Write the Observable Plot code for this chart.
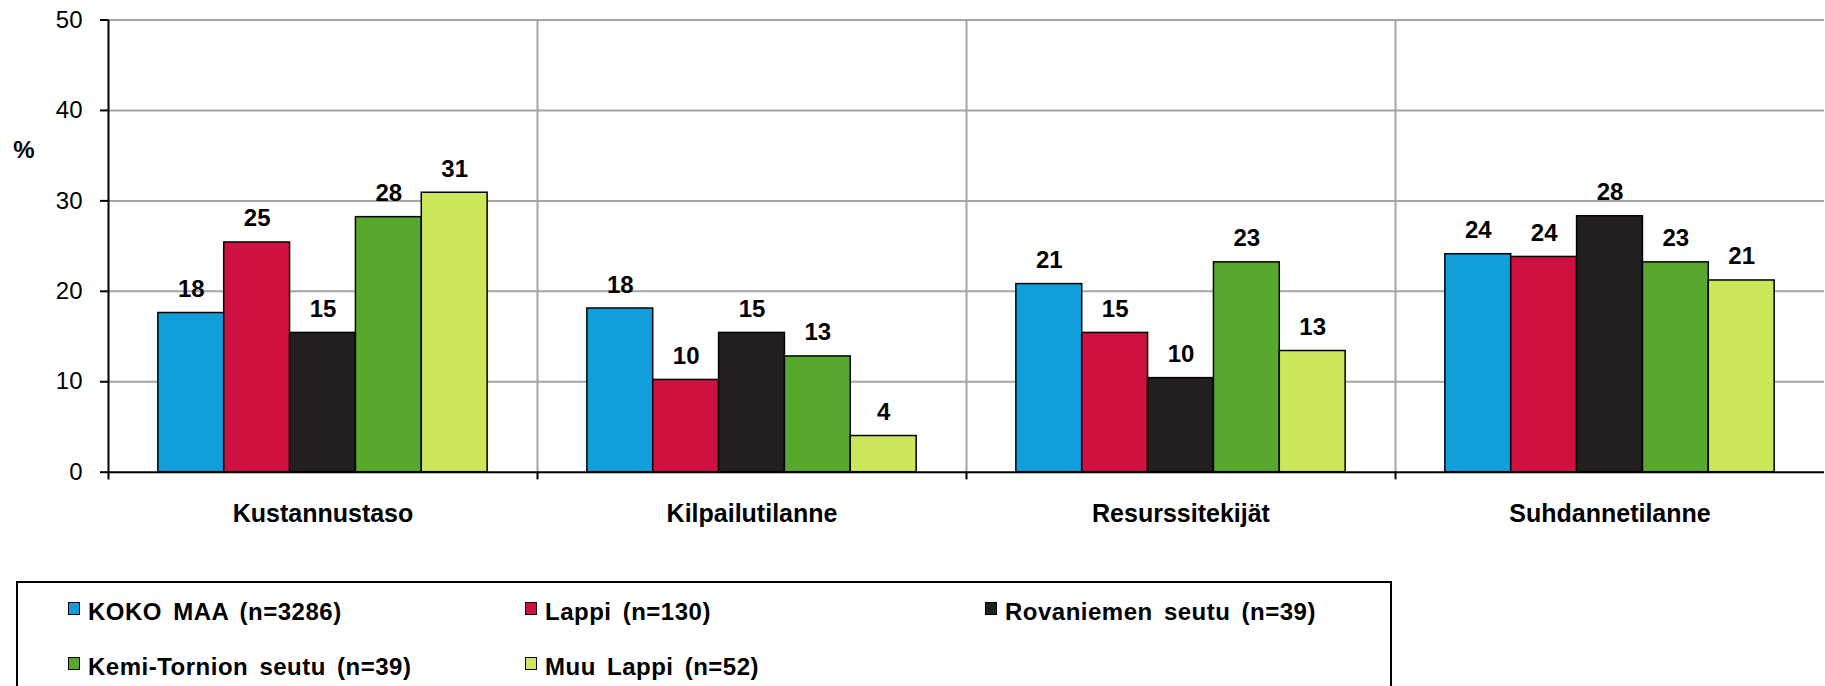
<!DOCTYPE html>
<html>
<head>
<meta charset="utf-8">
<script src="https://cdn.jsdelivr.net/npm/d3@7"></script>
<script src="https://cdn.jsdelivr.net/npm/@observablehq/plot@0.6"></script>
<style>
  html, body { margin: 0; padding: 0; background: #fff; overflow: hidden; }
  body { width: 1825px; height: 686px; position: relative; font-family: "Liberation Sans", Arial, sans-serif; }
  #chart { position: absolute; left: 0; top: 0; }
  #ylabel { position: absolute; left: 0; width: 48px; text-align: center; top: 136px; font-size: 24px; font-weight: bold; line-height: 28px; }
  #legend { position: absolute; left: 16px; top: 581px; width: 1372px; height: 160px; border: 2px solid #000; }
  .item { position: absolute; }
  .sw { position: absolute; width: 10px; height: 11px; border: 1px solid #000; }
  .lt { position: absolute; white-space: nowrap; font-size: 24px; font-weight: bold; line-height: 24px; letter-spacing: 0.5px; word-spacing: 4px; }
</style>
</head>
<body>
<div id="chart"></div>
<div id="ylabel">%</div>
<div id="legend"></div>
<script>
// ---- data ----
const categories = ["Kustannustaso", "Kilpailutilanne", "Resurssitekijät", "Suhdannetilanne"];
const series = ["KOKO MAA (n=3286)", "Lappi (n=130)", "Rovaniemen seutu (n=39)", "Kemi-Tornion seutu (n=39)", "Muu Lappi (n=52)"];
const kokoMaa    = [17.6, 18.1, 20.8, 24.1];
const lappi      = [25.4, 10.2, 15.4, 23.8];
const rovaniemi  = [15.4, 15.4, 10.4, 28.3];
const kemiTornio = [28.2, 12.8, 23.2, 23.2];
const muuLappi   = [30.9, 4.0, 13.4, 21.2];
const colors = ["#109FDA", "#CE1141", "#231F20", "#57A82D", "#CCE85A"];
const yTicks = [0, 10, 20, 30, 40, 50];

// ---- build table ----
const seriesValues = [kokoMaa, lappi, rovaniemi, kemiTornio, muuLappi];
const rows = [];
categories.forEach((cat, c) => {
  series.forEach((s, i) => {
    rows.push({cat, series: s, i, x1: i - 0.5, x2: i + 0.5, value: seriesValues[i][c]});
  });
});

const pad = 0.757;
const xDomain = [-0.5 - pad, series.length - 0.5 + pad];
const edges = categories.map(cat => ({cat, x: xDomain[0]}));

const chart = Plot.plot({
  width: 1825,
  height: 560,
  marginLeft: 106,
  marginRight: 0,
  marginTop: 19.5,
  marginBottom: 88.3,
  style: {fontFamily: "'Liberation Sans', Arial, sans-serif", color: "#000", background: "#fff", overflow: "visible"},
  fx: {domain: categories, padding: 0, axis: null, label: null},
  x: {domain: xDomain, axis: null},
  y: {domain: [0, 50], axis: null},
  color: {domain: series, range: colors},
  marks: [
    Plot.gridY(yTicks.filter(d => d > 0), {stroke: "#a6a6a6", strokeOpacity: 1, strokeWidth: 2}),
    Plot.ruleX(edges.slice(1), {fx: "cat", x: "x", y1: 0, y2: 50, stroke: "#a6a6a6", strokeWidth: 2}),
    Plot.ruleX(edges.slice(1), {fx: "cat", x: "x", y1: -0.85, y2: 0, stroke: "#000", strokeWidth: 2}),
    Plot.rectY(rows, {fx: "cat", x1: "x1", x2: "x2", y: "value", fill: "series", stroke: "#000", strokeWidth: 1.5}),
    Plot.ruleY([0], {stroke: "#000", strokeWidth: 2}),
    Plot.ruleX(edges.slice(0, 1), {fx: "cat", x: "x", y1: -0.85, y2: 50, stroke: "#000", strokeWidth: 2}),
    Plot.axisY({ticks: yTicks, tickSize: 8, tickPadding: 18, fontSize: 24, stroke: "#000", strokeWidth: 2, label: null}),
    Plot.axisFx({anchor: "bottom", tickSize: 0, tickPadding: 32, fontSize: 25, fontWeight: "bold", label: null}),
    Plot.text(rows, {fx: "cat", x: "i", y: "value", text: d => String(Math.round(d.value)), lineAnchor: "bottom", dy: -16, fontSize: 24, fontWeight: "bold", fill: "#000"})
  ]
});
document.getElementById("chart").appendChild(chart);

// ---- legend ----
const legend = document.getElementById("legend");
const colX = [50, 507, 967];
const rowY = [19, 74];
series.forEach((s, i) => {
  const col = i < 3 ? i : i - 3;
  const row = i < 3 ? 0 : 1;
  const sw = document.createElement("div");
  sw.className = "sw";
  sw.style.left = colX[col] + "px";
  sw.style.top = rowY[row] + "px";
  sw.style.background = colors[i];
  legend.appendChild(sw);
  const t = document.createElement("div");
  t.className = "lt";
  t.style.left = (colX[col] + 20) + "px";
  t.style.top = (rowY[row] - 2) + "px";
  t.textContent = s;
  legend.appendChild(t);
});
</script>
</body>
</html>
